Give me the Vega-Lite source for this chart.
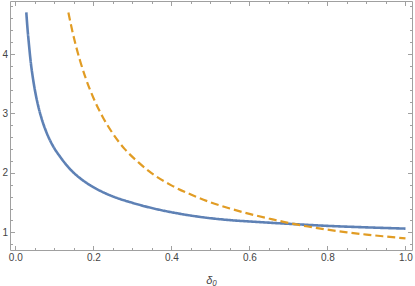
{
  "$schema": "https://vega.github.io/schema/vega-lite/v6.json",
  "width": 402,
  "height": 249,
  "autosize": "none",
  "padding": {"left": 10, "top": 1, "right": 3, "bottom": 36},
  "config": {
    "view": {"stroke": null},
    "axis": {
      "grid": false,
      "domainColor": "#a0a0a0",
      "tickColor": "#a0a0a0",
      "labelFont": "Liberation Sans",
      "labelFontSize": 10,
      "labelColor": "#444444",
      "titleFont": "Liberation Sans",
      "titleFontWeight": "normal",
      "titleColor": "#444444",
      "labelOverlap": false,
      "labelFlush": false
    }
  },
  "data": {
    "values": [
      {"x": 0.0282, "y": 4.70, "s": "a"},
      {"x": 0.031, "y": 4.45, "s": "a"},
      {"x": 0.035, "y": 4.16, "s": "a"},
      {"x": 0.04, "y": 3.84, "s": "a"},
      {"x": 0.045, "y": 3.60, "s": "a"},
      {"x": 0.05, "y": 3.40, "s": "a"},
      {"x": 0.06, "y": 3.09, "s": "a"},
      {"x": 0.07, "y": 2.86, "s": "a"},
      {"x": 0.08, "y": 2.68, "s": "a"},
      {"x": 0.095, "y": 2.47, "s": "a"},
      {"x": 0.115, "y": 2.27, "s": "a"},
      {"x": 0.14, "y": 2.065, "s": "a"},
      {"x": 0.17, "y": 1.89, "s": "a"},
      {"x": 0.2, "y": 1.76, "s": "a"},
      {"x": 0.24, "y": 1.63, "s": "a"},
      {"x": 0.3, "y": 1.496, "s": "a"},
      {"x": 0.36, "y": 1.393, "s": "a"},
      {"x": 0.42, "y": 1.314, "s": "a"},
      {"x": 0.48, "y": 1.253, "s": "a"},
      {"x": 0.55, "y": 1.205, "s": "a"},
      {"x": 0.62, "y": 1.174, "s": "a"},
      {"x": 0.70, "y": 1.143, "s": "a"},
      {"x": 0.80, "y": 1.108, "s": "a"},
      {"x": 0.90, "y": 1.083, "s": "a"},
      {"x": 1.0, "y": 1.062, "s": "a"},
      {"x": 0.136, "y": 4.70, "s": "b"},
      {"x": 0.145, "y": 4.42, "s": "b"},
      {"x": 0.155, "y": 4.147, "s": "b"},
      {"x": 0.166, "y": 3.887, "s": "b"},
      {"x": 0.18, "y": 3.601, "s": "b"},
      {"x": 0.2, "y": 3.264, "s": "b"},
      {"x": 0.225, "y": 2.929, "s": "b"},
      {"x": 0.25, "y": 2.661, "s": "b"},
      {"x": 0.28, "y": 2.404, "s": "b"},
      {"x": 0.315, "y": 2.18, "s": "b"},
      {"x": 0.35, "y": 1.99, "s": "b"},
      {"x": 0.4, "y": 1.79, "s": "b"},
      {"x": 0.45, "y": 1.635, "s": "b"},
      {"x": 0.5, "y": 1.505, "s": "b"},
      {"x": 0.55, "y": 1.40, "s": "b"},
      {"x": 0.6, "y": 1.31, "s": "b"},
      {"x": 0.65, "y": 1.232, "s": "b"},
      {"x": 0.7, "y": 1.158, "s": "b"},
      {"x": 0.75, "y": 1.097, "s": "b"},
      {"x": 0.8, "y": 1.044, "s": "b"},
      {"x": 0.85, "y": 1.0, "s": "b"},
      {"x": 0.9, "y": 0.961, "s": "b"},
      {"x": 0.95, "y": 0.928, "s": "b"},
      {"x": 1.0, "y": 0.897, "s": "b"}
    ]
  },
  "layer": [
    {
      "mark": {"type": "line", "interpolate": "monotone"},
      "encoding": {
        "x": {
          "field": "x", "type": "quantitative",
          "scale": {"domain": [-0.0136, 1.0167], "nice": false, "zero": false},
          "axis": {
            "orient": "bottom",
            "values": [0, 0.05, 0.1, 0.15, 0.2, 0.25, 0.3, 0.35, 0.4, 0.45, 0.5, 0.55, 0.6, 0.65, 0.7, 0.75, 0.8, 0.85, 0.9, 0.95, 1.0],
            "labelExpr": "abs(datum.value*5 - round(datum.value*5)) < 0.001 ? format(datum.value, '.1f') : ''",
            "tickSize": {"condition": {"test": "abs(datum.value*5 - round(datum.value*5)) < 0.001", "value": -4.5}, "value": -2.5},
            "labelPadding": 7,
            "title": "δ₀",
            "titleFontSize": 11,
            "titleFontStyle": "italic",
            "titlePadding": 10
          }
        },
        "y": {
          "field": "y", "type": "quantitative",
          "scale": {"domain": [0.702, 4.892], "nice": false, "zero": false},
          "axis": {
            "orient": "left",
            "values": [0.8, 1, 1.2, 1.4, 1.6, 1.8, 2, 2.2, 2.4, 2.6, 2.8, 3, 3.2, 3.4, 3.6, 3.8, 4, 4.2, 4.4, 4.6, 4.8],
            "labelExpr": "abs(datum.value - round(datum.value)) < 0.001 ? format(datum.value, 'd') : ''",
            "tickSize": {"condition": {"test": "abs(datum.value - round(datum.value)) < 0.001", "value": -4.5}, "value": -2.5},
            "labelPadding": 7,
            "title": null
          }
        },
        "color": {"field": "s", "type": "nominal", "scale": {"domain": ["a", "b"], "range": ["#5E81B5", "#E19C24"]}, "legend": null},
        "strokeDash": {"field": "s", "type": "nominal", "scale": {"domain": ["a", "b"], "range": [[1, 0], [8, 4]]}, "legend": null},
        "strokeWidth": {"field": "s", "type": "ordinal", "scale": {"domain": ["a", "b"], "range": [2.6, 2.2]}, "legend": null}
      }
    },
    {
      "mark": {"type": "line", "opacity": 0},
      "encoding": {
        "x": {
          "field": "x", "type": "quantitative",
          "axis": {
            "orient": "top",
            "values": [0, 0.05, 0.1, 0.15, 0.2, 0.25, 0.3, 0.35, 0.4, 0.45, 0.5, 0.55, 0.6, 0.65, 0.7, 0.75, 0.8, 0.85, 0.9, 0.95, 1.0],
            "labels": false,
            "tickSize": {"condition": {"test": "abs(datum.value*5 - round(datum.value*5)) < 0.001", "value": -4.5}, "value": -2.5},
            "title": null
          }
        },
        "y": {
          "field": "y", "type": "quantitative",
          "axis": {
            "orient": "right",
            "values": [0.8, 1, 1.2, 1.4, 1.6, 1.8, 2, 2.2, 2.4, 2.6, 2.8, 3, 3.2, 3.4, 3.6, 3.8, 4, 4.2, 4.4, 4.6, 4.8],
            "labels": false,
            "tickSize": {"condition": {"test": "abs(datum.value - round(datum.value)) < 0.001", "value": -4.5}, "value": -2.5},
            "title": null
          }
        },
        "detail": {"field": "s", "type": "nominal"}
      }
    }
  ],
  "resolve": {"axis": {"x": "independent", "y": "independent"}}
}
